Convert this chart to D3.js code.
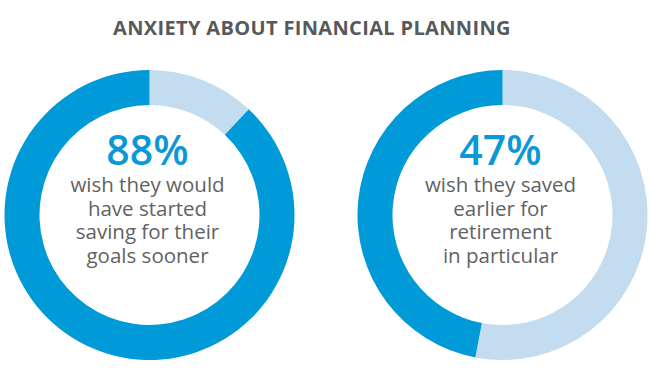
<!DOCTYPE html>
<html>
<head>
<meta charset="utf-8">
<script src="https://cdn.jsdelivr.net/npm/d3@7"></script>
<style>
  html, body { margin: 0; padding: 0; background: #fff; }
  svg { display: block; }
  .donut-title { font-family: 'Open Sans', sans-serif; font-weight: 700; fill: #58595b; }
  .donut-value { font-family: 'Open Sans', sans-serif; font-weight: 600; fill: #0a98d8; }
  .donut-caption { font-family: 'Open Sans', sans-serif; fill: #616264; }
</style>
</head>
<body>
<div id="chart"></div>
<script>
// --- Data ---
const chartTitle   = 'ANXIETY ABOUT FINANCIAL PLANNING';
const panelKeys    = ['started', 'retirement'];
const shareValues  = [88, 47];
const shareLabels  = ['88%', '47%'];
const captionLines = [
  ['wish they would', 'have started', 'saving for their', 'goals sooner'],
  ['wish they saved', 'earlier for', 'retirement', 'in particular']
];
const segmentKeys  = ['rest', 'share'];

const width  = 650;
const height = 373;
const outerR = 145;
const innerR = 110;
const cy     = 215;

const svg = d3.select('#chart')
  .append('svg')
    .attr('width', width)
    .attr('height', height);

svg.append('text')
  .attr('class', 'donut-title')
  .attr('x', 113)
  .attr('y', 35)
  .attr('font-size', 20)
  .attr('letter-spacing', 0.35)
  .text(chartTitle);

const xScale = d3.scalePoint()
  .domain(panelKeys)
  .range([149.5, 502.5]);

const color = d3.scaleOrdinal()
  .domain(segmentKeys)
  .range(['#c4dcf0', '#009ad9']);

// light part first, clockwise from 12 o'clock; dark share fills the rest
const pie = d3.pie()
  .sort(null)
  .value(d => d.value);

const arc = d3.arc()
  .innerRadius(innerR)
  .outerRadius(outerR);

const panels = svg.selectAll('.donut')
  .data(panelKeys.map((k, i) => ({
    key: k,
    value: shareValues[i],
    label: shareLabels[i],
    lines: captionLines[i]
  })))
  .join('g')
    .attr('class', 'donut')
    .attr('transform', d => `translate(${xScale(d.key)},${cy})`);

panels.selectAll('path')
  .data(d => pie([
    { key: 'rest',  value: 100 - d.value },
    { key: 'share', value: d.value }
  ]))
  .join('path')
    .attr('d', arc)
    .attr('fill', d => color(d.data.key));

panels.append('text')
  .attr('class', 'donut-value')
  .attr('text-anchor', 'middle')
  .attr('x', -2)
  .attr('y', -50)
  .attr('font-size', 41)
  .text(d => d.label);

panels.selectAll('.donut-caption')
  .data(d => d.lines)
  .join('text')
    .attr('class', 'donut-caption')
    .attr('text-anchor', 'middle')
    .attr('x', -2)
    .attr('y', (d, i) => -23 + i * 23.5)
    .attr('font-size', 20.5)
    .text(d => d);
</script>
</body>
</html>
